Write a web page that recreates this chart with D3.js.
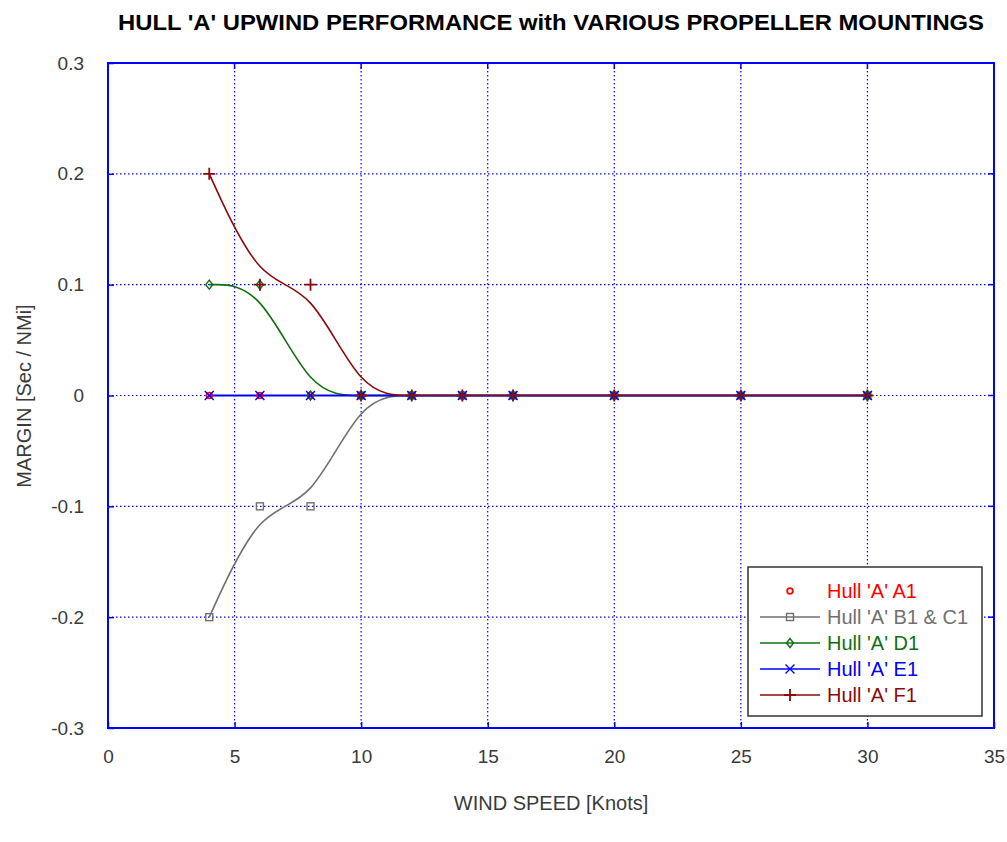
<!DOCTYPE html>
<html><head><meta charset="utf-8">
<script src="https://cdn.jsdelivr.net/npm/d3@7"></script>
<style>body{margin:0;background:#fff}svg{display:block}text{font-family:"Liberation Sans",Arial,sans-serif}</style>
</head><body>
<svg id="c" width="1007" height="842"></svg>
<script>
const windSpeed = [4, 6, 8, 10, 12, 14, 16, 20, 25, 30];
const hullA1 = [0, 0, 0, 0, 0, 0, 0, 0, 0, 0];
const hullB1C1 = [-0.2, -0.1, -0.1, 0, 0, 0, 0, 0, 0, 0];
const hullD1 = [0.1, 0.1, 0, 0, 0, 0, 0, 0, 0, 0];
const hullE1 = [0, 0, 0, 0, 0, 0, 0, 0, 0, 0];
const hullF1 = [0.2, 0.1, 0.1, 0, 0, 0, 0, 0, 0, 0];
const xTicks = [0, 5, 10, 15, 20, 25, 30, 35];
const yTicks = [0.3, 0.2, 0.1, 0, -0.1, -0.2, -0.3];
const seriesNames = ["Hull 'A' A1", "Hull 'A' B1 & C1", "Hull 'A' D1", "Hull 'A' E1", "Hull 'A' F1"];

const series = [
  {name: seriesNames[0], values: hullA1, color: "#ff0000", line: false, marker: "circle"},
  {name: seriesNames[1], values: hullB1C1, color: "#707070", line: true, marker: "square"},
  {name: seriesNames[2], values: hullD1, color: "#107010", line: true, marker: "diamond"},
  {name: seriesNames[3], values: hullE1, color: "#0000ff", line: true, marker: "x", straight: true},
  {name: seriesNames[4], values: hullF1, color: "#8b0a0a", line: true, marker: "plus"}
];

const svg = d3.select("#c");
const L = 108, R = 994, T = 63, B = 728;
const x = d3.scaleLinear().domain([0, 35]).range([L, R]);
const y = d3.scaleLinear().domain([-0.3, 0.3]).range([B, T]);

svg.append("text").attr("x", 551).attr("y", 30).attr("text-anchor", "middle")
  .attr("font-size", 22).attr("font-weight", "bold").attr("fill", "#000")
  .attr("textLength", 866).attr("lengthAdjust", "spacingAndGlyphs")
  .text("HULL 'A' UPWIND PERFORMANCE with VARIOUS PROPELLER MOUNTINGS");

const grid = svg.append("g");
grid.selectAll(".gx").data(xTicks.slice(1, -1)).join("line")
  .attr("x1", d => x(d)).attr("x2", d => x(d)).attr("y1", T).attr("y2", B)
  .attr("stroke", "#0000ff").attr("stroke-width", 1.2).attr("stroke-dasharray", "1.5,2.5");
grid.selectAll(".gy").data(yTicks.slice(1, -1)).join("line")
  .attr("y1", d => y(d)).attr("y2", d => y(d)).attr("x1", L).attr("x2", R)
  .attr("stroke", "#0000ff").attr("stroke-width", 1.2).attr("stroke-dasharray", "1.5,2.5");

const xAxis = svg.append("g").attr("transform", `translate(0,${B})`)
  .call(d3.axisBottom(x).tickValues(xTicks).tickSize(-6).tickPadding(22).tickFormat(d3.format("d")));
const yAxis = svg.append("g").attr("transform", `translate(${L},0)`)
  .call(d3.axisLeft(y).tickValues(yTicks).tickSize(-6).tickPadding(24).tickFormat(d => d === 0 ? "0" : d3.format(".1f")(d).replace("−", "-")));
svg.selectAll(".domain").remove();
[xAxis, yAxis].forEach(a => {
  a.selectAll("line").attr("stroke", "#0000ff").attr("stroke-width", 1.5);
  a.selectAll("text").attr("font-size", 19).attr("fill", "#3a3a3a").attr("font-family", "'Liberation Sans',Arial,sans-serif");
});
svg.append("g").selectAll("line").data(xTicks).join("line")
  .attr("x1", d => x(d)).attr("x2", d => x(d)).attr("y1", T).attr("y2", T + 6)
  .attr("stroke", "#0000ff").attr("stroke-width", 1.5);
svg.append("g").selectAll("line").data(yTicks).join("line")
  .attr("y1", d => y(d)).attr("y2", d => y(d)).attr("x1", R).attr("x2", R - 6)
  .attr("stroke", "#0000ff").attr("stroke-width", 1.5);

svg.append("rect").attr("x", L).attr("y", T).attr("width", R - L).attr("height", B - T)
  .attr("fill", "none").attr("stroke", "#0000ff").attr("stroke-width", 2);

svg.append("text").attr("x", 551).attr("y", 810).attr("text-anchor", "middle")
  .attr("font-size", 20).attr("fill", "#3a3a3a").text("WIND SPEED [Knots]");
svg.append("text").attr("transform", "translate(31,396) rotate(-90)").attr("text-anchor", "middle")
  .attr("font-size", 20).attr("fill", "#3a3a3a").text("MARGIN [Sec / NMi]");

function drawMarker(g, type, cx, cy, color) {
  if (type === "circle") {
    g.append("circle").attr("cx", cx).attr("cy", cy).attr("r", 2.8).attr("fill", "none").attr("stroke", color).attr("stroke-width", 1.8);
  } else if (type === "square") {
    g.append("rect").attr("x", cx - 3.5).attr("y", cy - 3.5).attr("width", 7).attr("height", 7).attr("fill", "none").attr("stroke", color).attr("stroke-width", 1.4);
  } else if (type === "diamond") {
    g.append("path").attr("d", `M${cx},${cy - 4.5}L${cx + 3.5},${cy}L${cx},${cy + 4.5}L${cx - 3.5},${cy}Z`).attr("fill", "none").attr("stroke", color).attr("stroke-width", 1.4);
  } else if (type === "x") {
    g.append("path").attr("d", `M${cx - 4.5},${cy - 4.5}L${cx + 4.5},${cy + 4.5}M${cx - 4.5},${cy + 4.5}L${cx + 4.5},${cy - 4.5}`).attr("stroke", color).attr("stroke-width", 1.4);
  } else if (type === "plus") {
    g.append("path").attr("d", `M${cx - 6},${cy}L${cx + 6},${cy}M${cx},${cy - 6}L${cx},${cy + 6}`).attr("stroke", color).attr("stroke-width", 1.8);
  }
}

const plot = svg.append("g");
[1, 2, 3, 4].forEach(i => {
  const s = series[i];
  const pts = windSpeed.map((w, j) => [w, s.values[j]]);
  const gen = d3.line().x(d => x(d[0])).y(d => y(d[1])).curve(s.straight ? d3.curveLinear : d3.curveBasis);
  plot.append("path").attr("d", gen(pts)).attr("fill", "none").attr("stroke", s.color).attr("stroke-width", s.straight ? 2 : 1.6);
});
[0, 1, 2, 3, 4].forEach(i => {
  const s = series[i];
  const g = plot.append("g");
  windSpeed.forEach((w, j) => drawMarker(g, s.marker, x(w), y(s.values[j]), s.color));
});

const lg = svg.append("g");
lg.append("rect").attr("x", 748).attr("y", 567).attr("width", 234).attr("height", 149)
  .attr("fill", "#fff").attr("stroke", "#333").attr("stroke-width", 1.5);
series.forEach((s, i) => {
  const cy = 591 + i * 26;
  if (s.line) lg.append("line").attr("x1", 760).attr("x2", 820).attr("y1", cy).attr("y2", cy).attr("stroke", s.color).attr("stroke-width", 1.6);
  drawMarker(lg, s.marker, 790, cy, s.color);
  lg.append("text").attr("x", 827).attr("y", cy + 7).attr("font-size", 20).attr("fill", s.color).text(s.name);
});
</script>
</body></html>
